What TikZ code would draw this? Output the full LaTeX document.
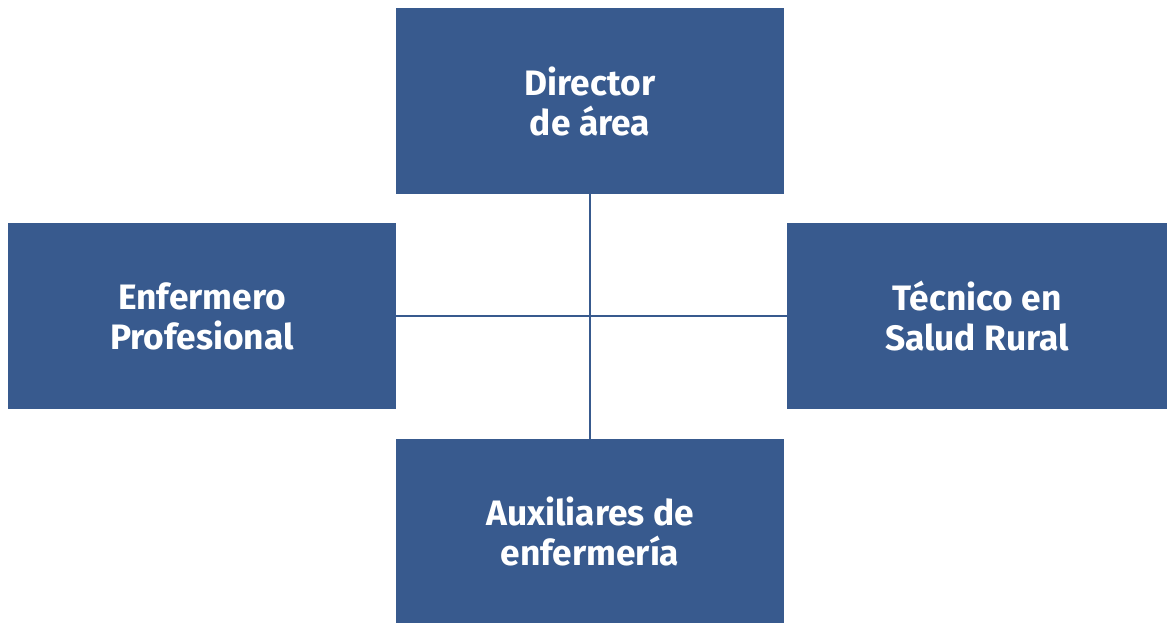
\documentclass[tikz,border=0pt]{standalone}
\usepackage{fontspec}
\setmainfont{Fira Sans}
\usetikzlibrary{positioning}

\definecolor{cargo}{HTML}{385A8E}

\tikzset{
  puesto/.style={fill=cargo, text=white, inner sep=0pt, align=center,
    font=\fontsize{26.5}{30}\selectfont\bfseries},
  enlace/.style={draw=cargo, line width=1.1pt}
}

\begin{document}
\begin{tikzpicture}[x=0.75pt, y=0.75pt]
      \useasboundingbox (0,0) rectangle (1167,623);
      \node[puesto, minimum width=291pt, minimum height=139.5pt] (director) at (590,522) {Director\\de área};
      \node[puesto, minimum width=291pt, minimum height=139.5pt] (enfermero) at (202,307) {Enfermero\\Profesional};
      \node[puesto, minimum width=285pt, minimum height=139.5pt] (tecnico) at (977,307) {Técnico en\\Salud Rural};
      \node[puesto, minimum width=291pt, minimum height=138pt] (auxiliares) at (590,92) {Auxiliares de\\enfermería};
      \draw[enlace] (director.south) -- (auxiliares.north);
      \draw[enlace] (enfermero.east) -- (tecnico.west);
    \end{tikzpicture}
\end{document}
